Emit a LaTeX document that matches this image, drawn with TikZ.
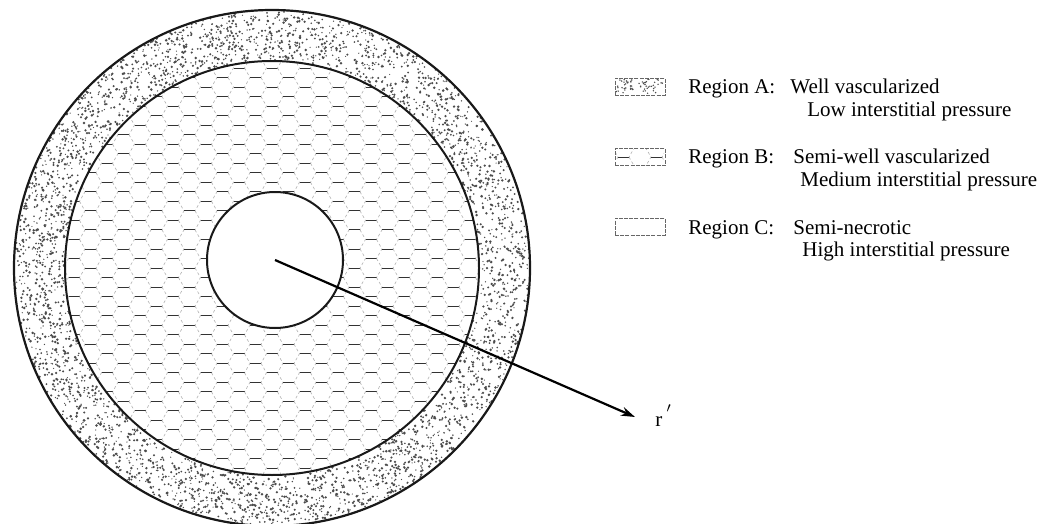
\documentclass[tikz,border=0pt]{standalone}
\usepackage{fontspec}
\setmainfont{Liberation Serif}
\usetikzlibrary{arrows.meta}
\begin{document}
\begin{tikzpicture}[x=0.5pt,y=-0.5pt,
  lbl/.style={anchor=base west,inner sep=0pt,font=\fontsize{10.5}{12}\selectfont},
  ringline/.style={line width=1pt,draw=black!90},
  hexh/.style={draw=black!80,line width=0.45pt},
  hexd/.style={draw=black!30,line width=0.3pt,dash pattern=on 1.4pt off 1.2pt},
  dotfill/.style={fill=black!70},
  swatch/.style={draw=black!60,line width=0.4pt,dash pattern=on 2pt off 0.6pt,minimum width=25pt,minimum height=8.5pt,inner sep=0pt}]
\useasboundingbox (0,0) rectangle (1043,524);
\fill[white] (0,0) rectangle (1043,524);
\clip (0,0) rectangle (1043,524);
\coordinate (O) at (272,268);
\coordinate (ctr) at (275,260);
\coordinate (tip) at (635,417);
% stipple in outer ring (Region A)
\pgfmathsetseed{7}
\foreach \k in {1,...,3800}{
  \pgfmathsetmacro\ang{360*rnd}
  \pgfmathsetmacro\rad{100*sqrt(2.08*2.08+rnd*(2.57*2.57-2.08*2.08))}
  \pgfmathsetmacro\dw{0.3+0.4*rnd}
  \pgfmathsetmacro\px{272+\rad*cos(\ang)}
  \pgfmathsetmacro\py{268+\rad*sin(\ang)}
  \fill[dotfill] (\px,\py) circle[radius=\dw pt];
}
% honeycomb (Region B)
\begin{scope}
\clip (O) circle[radius=103.5pt];
\foreach \i in {-13,...,13}{
 \foreach \j in {-12,...,12}{
  \pgfmathsetmacro\hx{272+16.5*\i}
  \pgfmathsetmacro\hy{268+19.05*\j+9.525*mod(\i+20,2)}
  \draw[hexh] (\hx-5.5,\hy-9.525) -- ++(11,0);
  \draw[hexd] (\hx+5.5,\hy-9.525) -- (\hx+11,\hy) -- (\hx+5.5,\hy+9.525);
 }}
\end{scope}
% Region C
\fill[white] (ctr) circle[radius=34pt];
% outlines
\draw[ringline,line width=1.1pt] (O) circle[radius=129pt];
\draw[ringline] (O) circle[radius=103.5pt];
\draw[ringline] (ctr) circle[radius=34pt];
% radius arrow
\draw[line width=1.1pt,-{Stealth[length=7pt,width=4.5pt]}] (ctr) -- (tip);
\node[anchor=base west,inner sep=0pt,font=\fontsize{10.5}{12}\selectfont] (rlab) at (655,426) {r\kern2pt\raisebox{3pt}{$'$}};
% legend swatches
\node[swatch] (swA) at (640,86.5) {};
\node[swatch] (swB) at (640,157) {};
\node[swatch] (swC) at (640,226.5) {};
\begin{scope}
\clip (616,79) rectangle (664,94);
\pgfmathsetseed{11}
\foreach \k in {1,...,60}{
  \pgfmathsetmacro\px{616+48*rnd}
  \pgfmathsetmacro\py{79+15*rnd}
  \fill[dotfill] (\px,\py) circle[radius=0.4pt];
}
\end{scope}
\begin{scope}
\clip (616,149) rectangle (664,165);
\foreach \i in {-2,...,2}{
 \foreach \j in {-1,...,1}{
  \pgfmathsetmacro\hx{640+16.5*\i}
  \pgfmathsetmacro\hy{157+19.05*\j+9.525*mod(\i+20,2)}
  \draw[hexh] (\hx-5.5,\hy-9.525) -- ++(11,0);
  \draw[hexd] (\hx+5.5,\hy-9.525) -- (\hx+11,\hy) -- (\hx+5.5,\hy+9.525);
 }}
\end{scope}
% legend texts
\node[lbl] (rA) at (688,94) {Region A:};
\node[lbl] (dA1) at (790,94) {Well vascularized};
\node[lbl] (dA2) at (807,117) {Low interstitial pressure};
\node[lbl] (rB) at (688,163) {Region B:};
\node[lbl] (dB1) at (793,163) {Semi-well vascularized};
\node[lbl] (dB2) at (800,186) {Medium interstitial pressure};
\node[lbl] (rC) at (688,234) {Region C:};
\node[lbl] (dC1) at (793,234) {Semi-necrotic};
\node[lbl] (dC2) at (802,256) {High interstitial pressure};
\end{tikzpicture}
\end{document}
